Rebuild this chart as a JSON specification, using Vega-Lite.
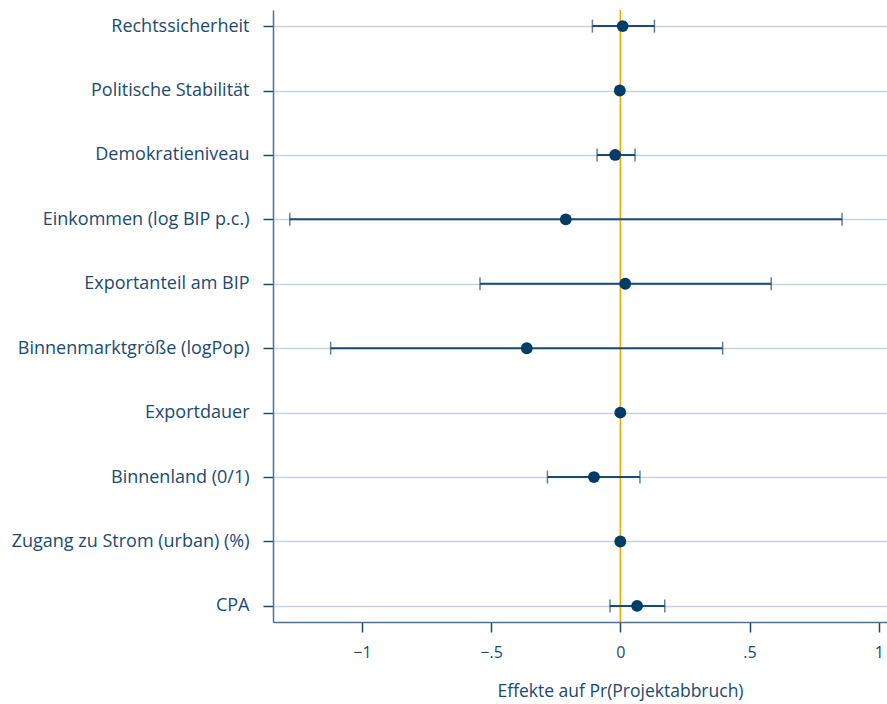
{
  "$schema": "https://vega.github.io/schema/vega-lite/v6.json",
  "autosize": "none",
  "width": 614,
  "height": 612,
  "padding": {"left": 273, "top": 10, "right": 0, "bottom": 82},
  "background": "white",
  "config": {
    "view": {"stroke": null},
    "font": "Open Sans",
    "axis": {"labelFont": "Open Sans", "titleFont": "Open Sans", "labelColor": "#1a4a72", "titleColor": "#1a4a72", "domainColor": "#4d7394", "tickColor": "#1a4a72", "titleFontWeight": "normal"}
  },
  "data": {
    "values": [
      {"var": "Rechtssicherheit", "est": 0.009, "lo": -0.108, "hi": 0.132},
      {"var": "Politische Stabilität", "est": -0.002, "lo": null, "hi": null},
      {"var": "Demokratieniveau", "est": -0.02, "lo": -0.09, "hi": 0.057},
      {"var": "Einkommen (log BIP p.c.)", "est": -0.211, "lo": -1.279, "hi": 0.858},
      {"var": "Exportanteil am BIP", "est": 0.019, "lo": -0.543, "hi": 0.584},
      {"var": "Binnenmarktgröße (logPop)", "est": -0.362, "lo": -1.121, "hi": 0.396},
      {"var": "Exportdauer", "est": 0.0, "lo": null, "hi": null},
      {"var": "Binnenland (0/1)", "est": -0.102, "lo": -0.282, "hi": 0.076},
      {"var": "Zugang zu Strom (urban) (%)", "est": 0.0, "lo": null, "hi": null},
      {"var": "CPA", "est": 0.065, "lo": -0.04, "hi": 0.172}
    ]
  },
  "encoding": {
    "y": {
      "field": "var", "type": "nominal", "sort": null,
      "scale": {"type": "point", "padding": 0.25, "domain": ["Rechtssicherheit", "Politische Stabilität", "Demokratieniveau", "Einkommen (log BIP p.c.)", "Exportanteil am BIP", "Binnenmarktgröße (logPop)", "Exportdauer", "Binnenland (0/1)", "Zugang zu Strom (urban) (%)", "CPA"]},
      "axis": {"title": null, "grid": true, "gridColor": "#c9d3dd", "gridWidth": 1.5, "tickSize": 10, "tickWidth": 1.5, "domainWidth": 1.5, "labelFontSize": 18, "labelPadding": 14, "labelLimit": 400}
    }
  },
  "layer": [
    {
      "mark": {"type": "rule", "color": "#f5a500", "strokeWidth": 1.5},
      "data": {"values": [{"z": 0}]},
      "encoding": {
        "x": {"field": "z", "type": "quantitative", "scale": {"domain": [-1.344, 1.032], "nice": false, "zero": false}},
        "y": null
      }
    },
    {
      "transform": [{"filter": "datum.lo != null"}],
      "mark": {"type": "rule", "color": "#1b4a72", "strokeWidth": 2},
      "encoding": {
        "x": {"field": "lo", "type": "quantitative"},
        "x2": {"field": "hi"}
      }
    },
    {
      "transform": [{"filter": "datum.lo != null"}],
      "mark": {"type": "tick", "orient": "vertical", "color": "#1b4a72", "size": 13, "thickness": 1.5},
      "encoding": {"x": {"field": "lo", "type": "quantitative"}}
    },
    {
      "transform": [{"filter": "datum.lo != null"}],
      "mark": {"type": "tick", "orient": "vertical", "color": "#1b4a72", "size": 13, "thickness": 1.5},
      "encoding": {"x": {"field": "hi", "type": "quantitative"}}
    },
    {
      "mark": {"type": "circle", "color": "#003c68", "opacity": 1, "size": 140},
      "encoding": {
        "x": {
          "field": "est", "type": "quantitative",
          "axis": {
            "title": "Effekte auf Pr(Projektabbruch)",
            "titleFontSize": 17.5, "titleX": 347, "titleY": 69, "titleBaseline": "middle", "titleAlign": "center", "titleAnchor": null,
            "values": [-1, -0.5, 0, 0.5, 1],
            "labelExpr": "datum.value == -1 ? '−1' : datum.value == -0.5 ? '−.5' : datum.value == 0 ? '0' : datum.value == 0.5 ? '.5' : '1'",
            "labelFontSize": 16, "labelPadding": 12, "tickSize": 10, "tickWidth": 1.5, "domainWidth": 1.5, "grid": false, "labelFlush": false
          }
        }
      }
    }
  ]
}
